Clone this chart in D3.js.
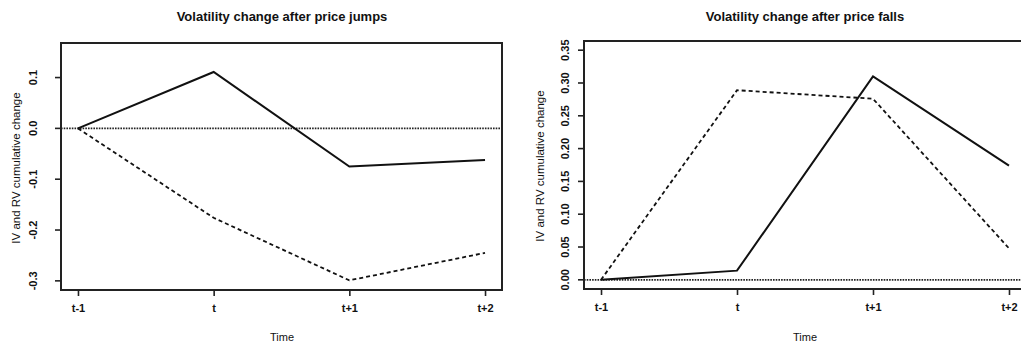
<!DOCTYPE html>
<html>
<head>
<meta charset="utf-8">
<script src="https://cdn.jsdelivr.net/npm/d3@7"></script>
<style>
  body { margin: 0; background: #fff; }
  text { font-family: "Liberation Sans", Arial, sans-serif; fill: #111; }
</style>
</head>
<body>
<svg id="chart" width="1021" height="346"></svg>
<script>
// Données
const timeLabels = ['t-1', 't', 't+1', 't+2']

const jumpsSolid = [0, 0.111, -0.075, -0.062]
const jumpsDashed = [0, -0.176, -0.299, -0.245]
const jumpsTicks = [-0.3, -0.2, -0.1, 0.0, 0.1]

const fallsSolid = [0, 0.014, 0.310, 0.174]
const fallsDashed = [0, 0.289, 0.276, 0.048]
const fallsTicks = [0, 0.05, 0.10, 0.15, 0.20, 0.25, 0.30, 0.35]

const svg = d3.select('#chart')

/**
 * Dessine un panneau façon R base graphics
 */
function drawPanel(p) {
  const g = svg.append('g')

  // Extension de 4% comme R
  const xExt = (timeLabels.length - 1) * 0.0417
  const x = d3.scaleLinear()
    .domain([1 - xExt, timeLabels.length + xExt])
    .range([p.left, p.right])
  const yExt = (p.ylim[1] - p.ylim[0]) * 0.04
  const y = d3.scaleLinear()
    .domain([p.ylim[0] - yExt, p.ylim[1] + yExt])
    .range([p.bottom, p.top])

  // Ligne zéro pointillée
  g.append('line')
    .attr('x1', p.left).attr('x2', p.right)
    .attr('y1', y(0)).attr('y2', y(0))
    .attr('stroke', '#222').attr('stroke-width', 1.7)
    .attr('stroke-dasharray', '1.6,1.1')

  const line = d3.line()
    .x((d, i) => x(i + 1))
    .y(d => y(d))

  g.append('path').datum(p.dashed)
    .attr('d', line).attr('fill', 'none')
    .attr('stroke', '#111').attr('stroke-width', 1.8)
    .attr('stroke-dasharray', '4,3')

  g.append('path').datum(p.solid)
    .attr('d', line).attr('fill', 'none')
    .attr('stroke', '#111').attr('stroke-width', 2)

  // Cadre
  g.append('rect')
    .attr('x', p.left).attr('y', p.top)
    .attr('width', p.right - p.left).attr('height', p.bottom - p.top)
    .attr('fill', 'none').attr('stroke', '#222').attr('stroke-width', 2)

  // Axe X
  const xAxis = d3.axisBottom(x)
    .tickValues(d3.range(1, timeLabels.length + 1))
    .tickFormat(d => timeLabels[d - 1])
    .tickSize(6).tickPadding(8)
  const gx = g.append('g')
    .attr('transform', 'translate(0,' + p.bottom + ')')
    .call(xAxis)
  gx.select('.domain').remove()
  gx.selectAll('line').attr('stroke', '#222').attr('stroke-width', 1.6)
  gx.selectAll('text').attr('font-size', '11px').attr('font-weight', 'bold').attr('fill', '#111')

  // Axe Y
  const yAxis = d3.axisLeft(y)
    .tickValues(p.ticks)
    .tickFormat(d => d.toFixed(p.digits))
    .tickSize(6)
  const gy = g.append('g')
    .attr('transform', 'translate(' + p.left + ',0)')
    .call(yAxis)
  gy.select('.domain').remove()
  gy.selectAll('line').attr('stroke', '#222').attr('stroke-width', 1.6)
  gy.selectAll('text')
    .attr('x', 0)
    .attr('transform', d => 'translate(' + (p.tickLabelX - p.left) + ',' + y(d) + ') rotate(-90)')
    .attr('y', 0)
    .attr('dy', '0.35em')
    .attr('text-anchor', 'middle')
    .attr('font-size', '11px').attr('font-weight', 'bold').attr('fill', '#111')
  // Les ticks d3 sont déjà translatés : on remet le texte dans le repère du groupe
  gy.selectAll('.tick').attr('transform', null)
  gy.selectAll('.tick line').attr('y1', d => y(d)).attr('y2', d => y(d))

  // Titres
  svg.append('text')
    .attr('x', p.titleX).attr('y', 21)
    .attr('text-anchor', 'middle')
    .attr('font-size', '13px').attr('font-weight', 'bold')
    .text(p.title)

  svg.append('text')
    .attr('x', p.titleX).attr('y', 341)
    .attr('text-anchor', 'middle')
    .attr('font-size', '11px')
    .text('Time')

  svg.append('text')
    .attr('transform', 'translate(' + p.ylabX + ',' + p.ylabY + ') rotate(-90)')
    .attr('text-anchor', 'middle')
    .attr('dy', '0.35em')
    .attr('font-size', '11.5px')
    .text('IV and RV cumulative change')
}

drawPanel({
  left: 61, right: 502, top: 43, bottom: 290,
  ylim: [-0.3, 0.15], ticks: jumpsTicks, digits: 1,
  solid: jumpsSolid, dashed: jumpsDashed,
  title: 'Volatility change after price jumps', titleX: 282,
  tickLabelX: 33, ylabX: 16, ylabY: 168
})

drawPanel({
  left: 584, right: 1026, top: 41, bottom: 289,
  ylim: [0, 0.35], ticks: fallsTicks, digits: 2,
  solid: fallsSolid, dashed: fallsDashed,
  title: 'Volatility change after price falls', titleX: 805,
  tickLabelX: 565, ylabX: 540, ylabY: 166
})
</script>
</body>
</html>
